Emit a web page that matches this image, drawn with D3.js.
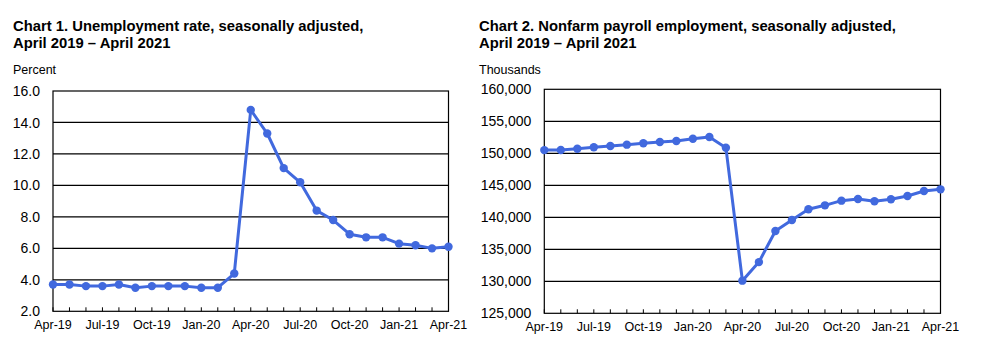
<!DOCTYPE html>
<html><head><meta charset="utf-8">
<script src="https://cdn.jsdelivr.net/npm/d3@7/dist/d3.min.js"></script>
<style>body{margin:0;background:#fff;} svg{display:block;font-family:"Liberation Sans",Arial,sans-serif;}</style>
</head><body>
<svg id="c" width="984" height="349"></svg>
<script>
const months = ["Apr-19","May-19","Jun-19","Jul-19","Aug-19","Sep-19","Oct-19","Nov-19","Dec-19","Jan-20","Feb-20","Mar-20","Apr-20","May-20","Jun-20","Jul-20","Aug-20","Sep-20","Oct-20","Nov-20","Dec-20","Jan-21","Feb-21","Mar-21","Apr-21"];
const tickLabels = ["Apr-19","Jul-19","Oct-19","Jan-20","Apr-20","Jul-20","Oct-20","Jan-21","Apr-21"];
const unemployment = [3.7,3.7,3.6,3.6,3.7,3.5,3.6,3.6,3.6,3.5,3.5,4.4,14.8,13.3,11.1,10.2,8.4,7.8,6.9,6.7,6.7,6.3,6.2,6.0,6.1];
const payroll = [150500,150520,150720,150940,151140,151350,151560,151770,151920,152280,152550,150880,130100,133000,137860,139580,141250,141870,142600,142860,142500,142810,143330,144110,144370];
const unempTicks = [2,4,6,8,10,12,14,16];
const payrollTicks = [125000,130000,135000,140000,145000,150000,155000,160000];

const svg = d3.select("#c");
const blue = "#4169DE";

function drawChart(o){
  const g = svg.append("g");
  g.append("text").attr("x",o.tx).attr("y",31).attr("font-size",14.8).attr("font-weight","bold").text(o.title1);
  g.append("text").attr("x",o.tx).attr("y",48).attr("font-size",14.8).attr("font-weight","bold").text(o.title2);
  g.append("text").attr("x",o.tx).attr("y",74).attr("font-size",12.5).text(o.unit);
  const x = d3.scalePoint().domain(months).range([o.left,o.right]);
  const y = d3.scaleLinear().domain(o.domain).range([o.bottom,o.top]);
  g.selectAll(".grid").data(o.ticks.slice(1,-1)).join("line")
    .attr("x1",o.left).attr("x2",o.right).attr("y1",d=>y(d)).attr("y2",d=>y(d))
    .attr("stroke","#000").attr("stroke-width",1.2);
  g.append("rect").attr("x",o.left).attr("y",o.top).attr("width",o.right-o.left).attr("height",o.bottom-o.top)
    .attr("fill","none").attr("stroke","#000").attr("stroke-width",1.2);
  g.selectAll(".yl").data(o.ticks).join("text")
    .attr("x",o.left-13).attr("y",d=>y(d)).attr("dy","0.36em").attr("text-anchor","end")
    .attr("font-size",14).text(o.fmt);
  g.selectAll(".xt").data(months).join("line")
    .attr("x1",d=>x(d)).attr("x2",d=>x(d)).attr("y1",o.bottom).attr("y2",o.bottom-4)
    .attr("stroke","#000").attr("stroke-width",1);
  g.selectAll(".xl").data(tickLabels).join("text")
    .attr("x",d=>x(d)).attr("y",o.bottom+18).attr("text-anchor","middle").attr("font-size",12.5).text(d=>d);
  const line = d3.line().x((d,i)=>x(months[i])).y(d=>y(d));
  g.append("path").datum(o.data).attr("d",line).attr("fill","none").attr("stroke",blue)
    .attr("stroke-width",3).attr("stroke-linejoin","round");
  g.selectAll(".pt").data(o.data).join("circle")
    .attr("cx",(d,i)=>x(months[i])).attr("cy",d=>y(d)).attr("r",4.2).attr("fill",blue);
}

drawChart({title1:"Chart 1. Unemployment rate, seasonally adjusted,",title2:"April 2019 \u2013 April 2021",unit:"Percent",
  tx:13,left:53,right:448.5,top:91,bottom:311.3,domain:[2,16],ticks:unempTicks,data:unemployment,fmt:d=>d3.format(".1f")(d)});
drawChart({title1:"Chart 2. Nonfarm payroll employment, seasonally adjusted,",title2:"April 2019 \u2013 April 2021",unit:"Thousands",
  tx:479,left:544.3,right:940.5,top:89.3,bottom:313.3,domain:[125000,160000],ticks:payrollTicks,data:payroll,fmt:d=>d3.format(",")(d)});
</script>
</body></html>
